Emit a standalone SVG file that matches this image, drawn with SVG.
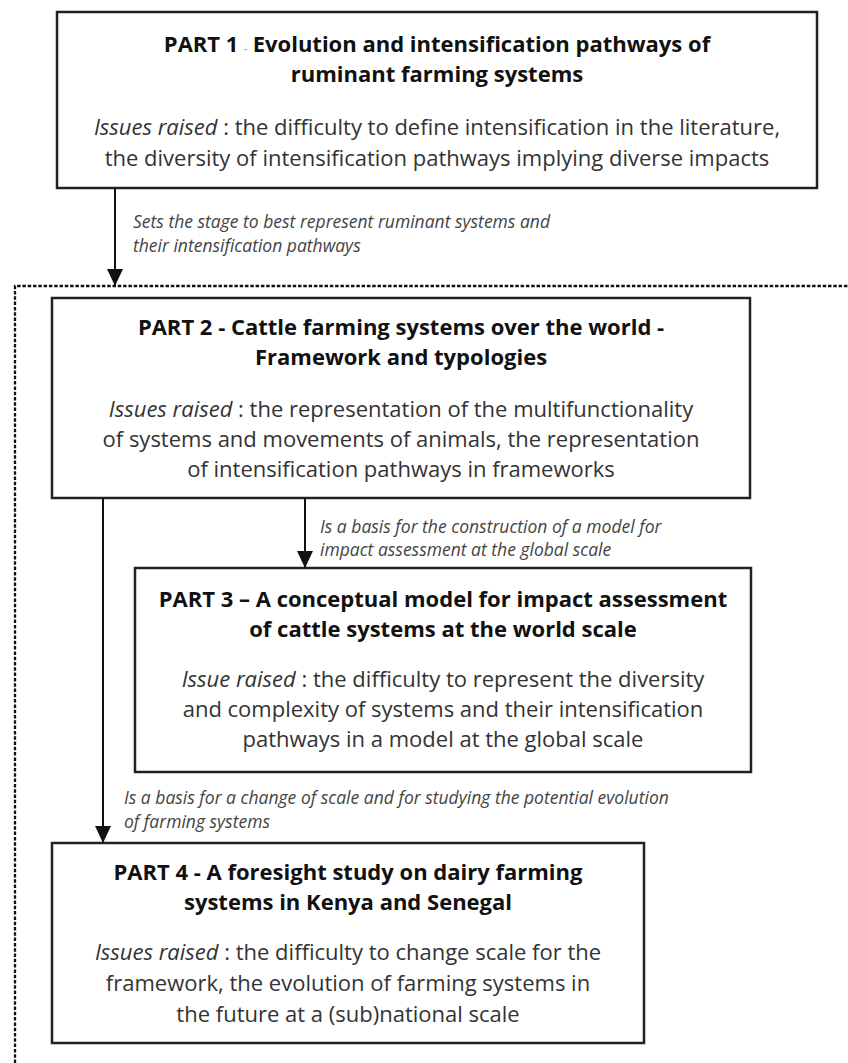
<svg xmlns="http://www.w3.org/2000/svg" width="848" height="1063" viewBox="0 0 848 1063">
<style>
.box{fill:#fff;stroke:#222;stroke-width:2.5}
.t{font-family:"Open Sans","Liberation Sans",sans-serif;font-weight:bold;font-size:22px;fill:#111;text-anchor:middle}
.b{font-family:"Open Sans","Liberation Sans",sans-serif;font-size:22px;fill:#333;text-anchor:middle}
.i{font-style:italic}
.lab{font-family:"Open Sans","Liberation Sans",sans-serif;font-style:italic;font-size:17.5px;fill:#444}
.con{stroke:#111;stroke-width:2;fill:none}
.dash{stroke:#111;stroke-width:2.3;fill:none;stroke-dasharray:3.5 1.8}
</style>
<defs>
<marker id="ah" markerUnits="userSpaceOnUse" markerWidth="18" markerHeight="18" refX="17" refY="8" orient="auto">
<path d="M0,0 L17,8 L0,16 z" fill="#111"/>
</marker>
</defs>
<path class="dash" d="M15,1063 V286 H848"/>
<g id="part1">
<rect class="box" x="57" y="12" width="760" height="176"/>
<text class="t" x="437" y="52">PART 1 <tspan font-size="9" fill="#999">-</tspan> Evolution and intensification pathways of</text>
<text class="t" x="437" y="82">ruminant farming systems</text>
<text class="b" x="437" y="135"><tspan class="i">Issues raised</tspan> : the difficulty to define intensification in the literature,</text>
<text class="b" x="437" y="166">the diversity of intensification pathways implying diverse impacts</text>
</g>
<g id="part2">
<rect class="box" x="52" y="298" width="698" height="200"/>
<text class="t" x="401" y="335">PART 2 - Cattle farming systems over the world -</text>
<text class="t" x="401" y="365">Framework and typologies</text>
<text class="b" x="401" y="417"><tspan class="i">Issues raised</tspan> : the representation of the multifunctionality</text>
<text class="b" x="401" y="447">of systems and movements of animals, the representation</text>
<text class="b" x="401" y="477">of intensification pathways in frameworks</text>
</g>
<g id="part3">
<rect class="box" x="135" y="568" width="616" height="204"/>
<text class="t" x="443" y="607">PART 3 – A conceptual model for impact assessment</text>
<text class="t" x="443" y="637">of cattle systems at the world scale</text>
<text class="b" x="443" y="687"><tspan class="i">Issue raised</tspan> : the difficulty to represent the diversity</text>
<text class="b" x="443" y="717">and complexity of systems and their intensification</text>
<text class="b" x="443" y="747">pathways in a model at the global scale</text>
</g>
<g id="part4">
<rect class="box" x="52" y="843" width="592" height="200"/>
<text class="t" x="348" y="880">PART 4 - A foresight study on dairy farming</text>
<text class="t" x="348" y="910">systems in Kenya and Senegal</text>
<text class="b" x="348" y="960"><tspan class="i">Issues raised</tspan> : the difficulty to change scale for the</text>
<text class="b" x="348" y="991">framework, the evolution of farming systems in</text>
<text class="b" x="348" y="1022">the future at a (sub)national scale</text>
</g>
<g id="connectors">
<line class="con" x1="115" y1="188" x2="115" y2="286" marker-end="url(#ah)"/>
<line class="con" x1="305" y1="498" x2="305" y2="568" marker-end="url(#ah)"/>
<line class="con" x1="103" y1="498" x2="103" y2="843" marker-end="url(#ah)"/>
<text class="lab" x="133" y="228">Sets the stage to best represent ruminant systems and</text>
<text class="lab" x="133" y="252">their intensification pathways</text>
<text class="lab" x="320" y="533">Is a basis for the construction of a model for</text>
<text class="lab" x="320" y="556">impact assessment at the global scale</text>
<text class="lab" x="124" y="804">Is a basis for a change of scale and for studying the potential evolution</text>
<text class="lab" x="124" y="828">of farming systems</text>
</g>
</svg>
